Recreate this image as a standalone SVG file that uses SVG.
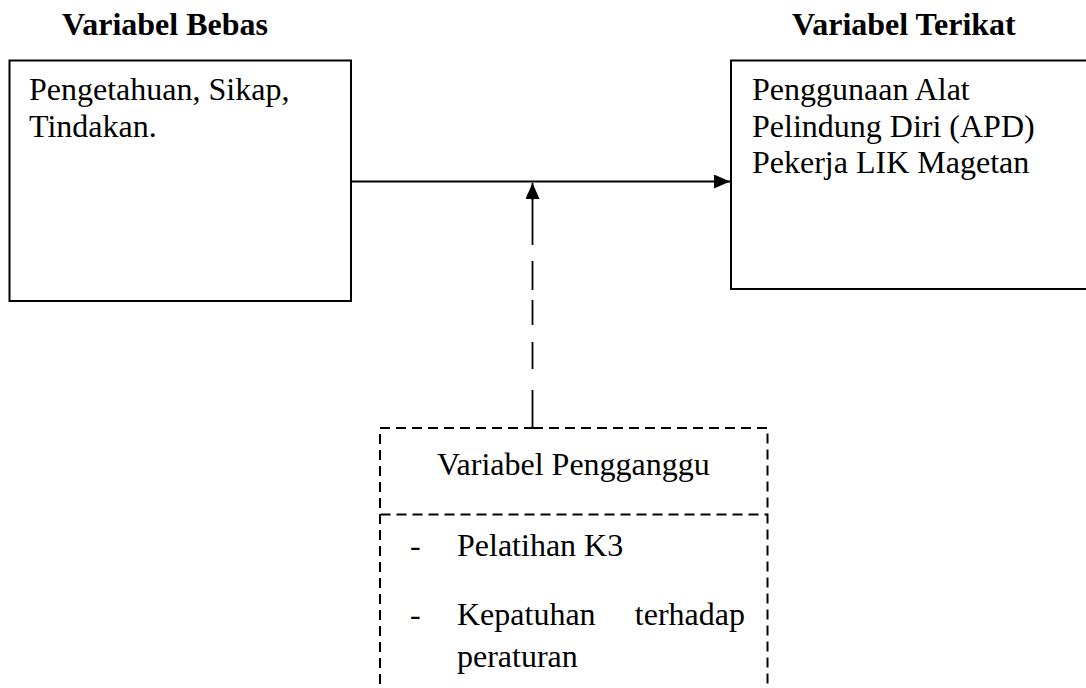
<svg xmlns="http://www.w3.org/2000/svg" width="1086" height="688" viewBox="0 0 1086 688">
<defs>
<style>
.t{font-family:"Liberation Serif","Times New Roman",serif;font-size:32px;fill:#000}
.b{font-weight:bold}
.box{fill:#fff;stroke:#000;stroke-width:2}
.dbox{fill:none;stroke:#000;stroke-width:2;stroke-dasharray:10 6}
.ln{fill:none;stroke:#000;stroke-width:1.8}
</style>
<marker id="ah" viewBox="0 0 16 14" refX="16" refY="7" markerWidth="16" markerHeight="14" markerUnits="userSpaceOnUse" orient="auto">
<path d="M0,0 L16,7 L0,14 Z" fill="#000"/>
</marker>
</defs>
<rect width="1086" height="688" fill="#fff"/>
<text class="t b" x="62" y="35">Variabel Bebas</text>
<text class="t b" x="792" y="35">Variabel Terikat</text>
<g id="bebas">
<rect class="box" x="9.5" y="60.5" width="341.5" height="240.5"/>
<text class="t" x="29" y="100">Pengetahuan, Sikap,</text>
<text class="t" x="29" y="137">Tindakan.</text>
</g>
<g id="terikat">
<rect class="box" x="731" y="60.5" width="370" height="228.5"/>
<text class="t" x="752" y="100">Penggunaan Alat</text>
<text class="t" x="752" y="137">Pelindung Diri (APD)</text>
<text class="t" x="752" y="173">Pekerja LIK Magetan</text>
</g>
<g id="pengganggu">
<path class="dbox" d="M533,428 H767.5 V700 M380,700 V428 H533"/>
<path class="dbox" d="M380.5,514.5 H767.5"/>
<text class="t" x="437" y="475">Variabel Pengganggu</text>
<text class="t" x="410" y="556">-</text>
<text class="t" x="457" y="556">Pelatihan K3</text>
<text class="t" x="410" y="625">-</text>
<text class="t" x="457" y="625">Kepatuhan</text>
<text class="t" x="745" y="625" text-anchor="end">terhadap</text>
<text class="t" x="457" y="667">peraturan</text>
</g>
<g id="connectors">
<path class="ln" d="M351,181.5 H730" marker-end="url(#ah)"/>
<path class="ln" d="M532.5,427 V198" stroke-dasharray="37 21 27 17 25 10 29 16 47"/>
<path class="ln" d="M532.5,200 V183" marker-end="url(#ah)"/>
</g>
</svg>
